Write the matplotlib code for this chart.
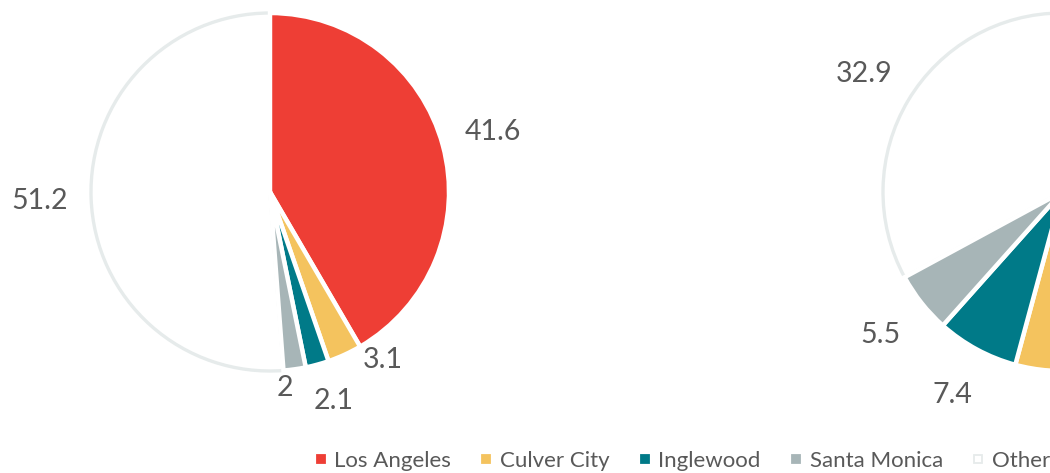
import matplotlib
matplotlib.use('Agg')
import numpy as np
import matplotlib.pyplot as plt
from matplotlib.lines import Line2D

# Data
cities      = ['Los Angeles', 'Culver City', 'Inglewood', 'Santa Monica', 'Other']
left_vals   = [41.6, 3.1, 2.1, 2.0, 51.2]
right_vals  = [42.2, 12.0, 7.4, 5.5, 32.9]
left_text   = ['41.6', '3.1', '2.1', '2', '51.2']
right_text  = ['42.2', '12', '7.4', '5.5', '32.9']

colors      = ['#EE3E35', '#F4C35E', '#007A88', '#A7B5B7', '#FFFFFF']
other_edge  = '#E6EBEB'
text_color  = '#595959'
font        = ['Lato', 'DejaVu Sans']

plt.rcParams['font.family'] = font

W, H = 1050, 473
fig = plt.figure(figsize=(W/100, H/100), dpi=100)
ax  = fig.add_axes([0, 0, 1, 1])

# label tweaks for the crowded small slices of the left pie: index -> (angle, distance)
left_moves = {1: (-56, 1.13), 2: (-73, 1.22), 3: (-85.6, 1.10)}


def draw_pie(vals, texts, center, radius, moves):
    wedges, _ = ax.pie(vals, colors=colors, startangle=90, counterclock=False,
                       center=center, radius=radius,
                       wedgeprops=dict(edgecolor='white', linewidth=3.2))
    wedges[-1].set_edgecolor(other_edge)
    wedges[-1].set_linewidth(2.4)
    wedges[-1].set_zorder(0)
    for i, (w, t) in enumerate(zip(wedges, texts)):
        ang, dist = moves.get(i, ((w.theta1 + w.theta2) / 2, 1.29))
        x = center[0] + dist * radius * np.cos(np.radians(ang))
        y = center[1] + dist * radius * np.sin(np.radians(ang))
        if x > W:   # the right pie runs off the page, its labels there are not shown
            continue
        ax.text(x, y, t, ha='center', va='center', fontsize=20.5, color=text_color)


draw_pie(left_vals, left_text, (270, H - 192), 179, left_moves)
draw_pie(right_vals, right_text, (1062, H - 192), 179, {})

ax.set_xlim(0, W)
ax.set_ylim(0, H)
ax.set_aspect('equal')
ax.axis('off')

handles = [Line2D([], [], marker='s', linestyle='none', markersize=6,
                  markerfacecolor=c, markeredgecolor=(other_edge if c == '#FFFFFF' else c),
                  markeredgewidth=1.3)
           for c in colors]
fig.legend(handles, cities, loc='center left', bbox_to_anchor=(304 / W, 12 / H),
           ncol=5, frameon=False, handlelength=0.5, handletextpad=0.35,
           columnspacing=1.35, borderpad=0, labelcolor=text_color,
           prop=dict(family=font, size=16))

plt.savefig('out.png', dpi=100)
